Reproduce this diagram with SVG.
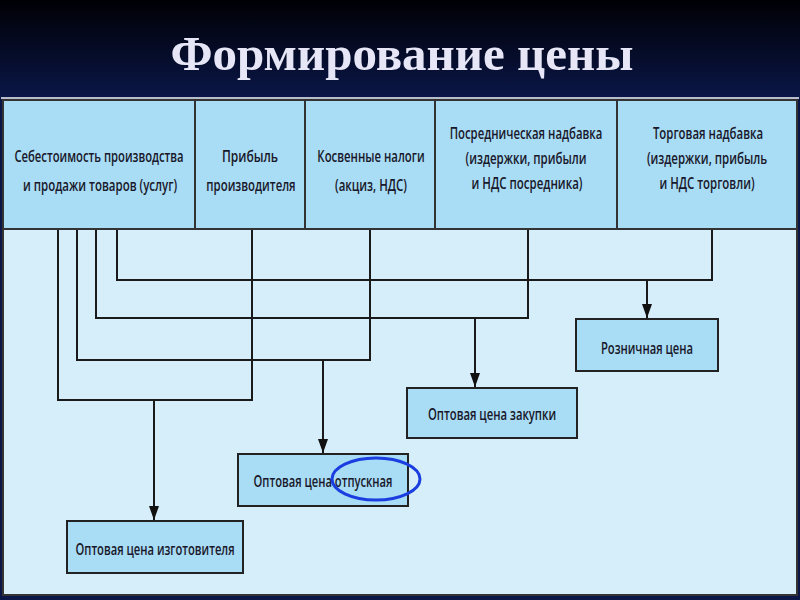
<svg xmlns="http://www.w3.org/2000/svg" width="800" height="600" viewBox="0 0 800 600">
<defs>
<linearGradient id="bg" x1="0" y1="0" x2="0" y2="1">
<stop offset="0" stop-color="#000004"/>
<stop offset="0.16" stop-color="#0a1646"/>
<stop offset="1" stop-color="#0a1646"/>
</linearGradient>
<marker id="arr" viewBox="0 0 14 10" refX="14" refY="5" markerWidth="14" markerHeight="10" markerUnits="userSpaceOnUse" orient="auto">
<path d="M0,0 L14,5 L0,10 Z" fill="#111"/>
</marker>
<style>
.hd{font-family:"Open Sans","Liberation Sans",sans-serif;font-size:17px;font-weight:600;fill:#18182a;text-anchor:middle;dominant-baseline:central}
.box{fill:#a9dcf5;stroke:#222;stroke-width:2}
.ln{fill:none;stroke:#1a1a1a;stroke-width:2}
.div{stroke:#333;stroke-width:2}
</style>
</defs>
<rect x="0" y="0" width="800" height="600" fill="url(#bg)"/>
<text x="402" y="70" font-family="'Liberation Serif',serif" font-weight="bold" font-size="49" fill="#e6e6f6" text-anchor="middle">Формирование цены</text>
<rect x="1" y="97" width="798" height="2" fill="#b8bccc"/>
<rect x="3" y="100" width="794" height="495" fill="#d6eef9" stroke="#333" stroke-width="2"/>
<rect x="3" y="100" width="794" height="129" fill="#a9dcf5" stroke="#333" stroke-width="2"/>
<g id="header">
<line class="div" x1="195" y1="100" x2="195" y2="229"/>
<line class="div" x1="305" y1="100" x2="305" y2="229"/>
<line class="div" x1="435" y1="100" x2="435" y2="229"/>
<line class="div" x1="617" y1="100" x2="617" y2="229"/>
</g>
<g id="n-cost">
<text class="hd" transform="translate(99,155) scale(0.72,1)" textLength="235" lengthAdjust="spacingAndGlyphs">Себестоимость производства</text>
<text class="hd" transform="translate(100,184) scale(0.72,1)" textLength="214" lengthAdjust="spacingAndGlyphs">и продажи товаров (услуг)</text>
</g>
<g id="n-profit">
<text class="hd" transform="translate(250,155) scale(0.72,1)" textLength="78" lengthAdjust="spacingAndGlyphs">Прибыль</text>
<text class="hd" transform="translate(251,184) scale(0.72,1)" textLength="124" lengthAdjust="spacingAndGlyphs">производителя</text>
</g>
<g id="n-tax">
<text class="hd" transform="translate(371,155) scale(0.72,1)" textLength="149" lengthAdjust="spacingAndGlyphs">Косвенные налоги</text>
<text class="hd" transform="translate(371,184) scale(0.72,1)" textLength="100" lengthAdjust="spacingAndGlyphs">(акциз, НДС)</text>
</g>
<g id="n-inter">
<text class="hd" transform="translate(526,132) scale(0.72,1)" textLength="212" lengthAdjust="spacingAndGlyphs">Посредническая надбавка</text>
<text class="hd" transform="translate(526,157) scale(0.72,1)" textLength="168" lengthAdjust="spacingAndGlyphs">(издержки, прибыли</text>
<text class="hd" transform="translate(527,182) scale(0.72,1)" textLength="154" lengthAdjust="spacingAndGlyphs">и НДС посредника)</text>
</g>
<g id="n-trade">
<text class="hd" transform="translate(708,132) scale(0.72,1)" textLength="153" lengthAdjust="spacingAndGlyphs">Торговая надбавка</text>
<text class="hd" transform="translate(707,157) scale(0.72,1)" textLength="167" lengthAdjust="spacingAndGlyphs">(издержки, прибыль</text>
<text class="hd" transform="translate(707,182) scale(0.72,1)" textLength="132" lengthAdjust="spacingAndGlyphs">и НДС торговли)</text>
</g>
<g id="connectors">
<path class="ln" d="M58,230 V400 H252 V230"/>
<path class="ln" d="M154,400 V520" marker-end="url(#arr)"/>
<path class="ln" d="M77,230 V360 H370 V230"/>
<path class="ln" d="M323,360 V453" marker-end="url(#arr)"/>
<path class="ln" d="M96,230 V318 H528 V230"/>
<path class="ln" d="M475,318 V387" marker-end="url(#arr)"/>
<path class="ln" d="M117,230 V280 H712 V230"/>
<path class="ln" d="M647,280 V318" marker-end="url(#arr)"/>
</g>
<g id="n-retail">
<rect class="box" x="576" y="319" width="142" height="52"/>
<text class="hd" transform="translate(647,347) scale(0.72,1)" textLength="128" lengthAdjust="spacingAndGlyphs">Розничная цена</text>
</g>
<g id="n-purchase">
<rect class="box" x="407" y="388" width="170" height="50"/>
<text class="hd" transform="translate(492,413) scale(0.72,1)" textLength="178" lengthAdjust="spacingAndGlyphs">Оптовая цена закупки</text>
</g>
<g id="n-release">
<rect class="box" x="238" y="454" width="170" height="52"/>
<text class="hd" transform="translate(323,480) scale(0.72,1)" textLength="193" lengthAdjust="spacingAndGlyphs">Оптовая цена отпускная</text>
<ellipse cx="376" cy="479" rx="44" ry="21" fill="none" stroke="#1a3ee0" stroke-width="3"/>
</g>
<g id="n-maker">
<rect class="box" x="67" y="521" width="176" height="52"/>
<text class="hd" transform="translate(155,548) scale(0.72,1)" textLength="221" lengthAdjust="spacingAndGlyphs">Оптовая цена изготовителя</text>
</g>
</svg>
